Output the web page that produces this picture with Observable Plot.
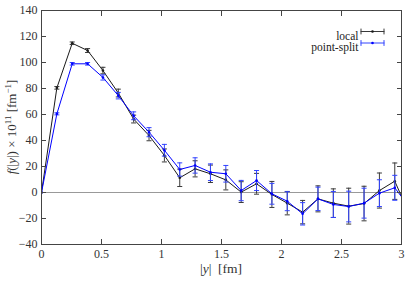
<!DOCTYPE html>
<html><head><meta charset="utf-8">
<script src="https://cdn.jsdelivr.net/npm/d3@7"></script>
<script src="https://cdn.jsdelivr.net/npm/@observablehq/plot@0.6"></script>
<style>body{margin:0;background:#fff} #chart svg{display:block}</style>
</head><body><div id="chart"></div>
<script>
const yPos = [0, 0.128, 0.256, 0.384, 0.512, 0.64, 0.768, 0.896, 1.024, 1.152, 1.28, 1.408, 1.536, 1.664, 1.792, 1.92, 2.048, 2.176, 2.304, 2.432, 2.56, 2.688, 2.816, 2.944, 3.072];
const local = [0, 80.5, 114.8, 109.2, 93.8, 76.5, 56.5, 43.8, 28.5, 11.3, 18.2, 14.4, 9.7, 0.3, 6.7, -1.5, -8.2, -15.1, -4.9, -8.2, -10.5, -8.5, 1.5, 8.7, -18];
const localErr = [0, 1, 1, 1.5, 2.5, 3, 3, 4, 5, 6.7, 6.2, 6.7, 7.7, 8, 8, 10, 9, 9, 10, 11, 13.8, 13.3, 13.5, 14, 14];
const pointSplit = [0, 60.5, 99, 99, 88.5, 74.5, 59, 46.4, 32.5, 17.7, 20.8, 15.6, 14.4, 1.5, 9.2, -1, -6.7, -16.4, -4.9, -9.2, -10.8, -8.2, -0.5, 3.6, -12];
const pointSplitErr = [0, 0.8, 1, 1, 2, 2.5, 3, 3.5, 4.5, 5.1, 5.9, 6.4, 6.4, 7.8, 7.7, 8, 7.3, 8.6, 9, 10, 11.8, 11.5, 10.3, 9.6, 10];
const xTicks = [0, 0.5, 1, 1.5, 2, 2.5, 3];
const yTicks = [-40, -20, 0, 20, 40, 60, 80, 100, 120, 140];
const seriesNames = ["local", "point-split"];
const lineColors = ["#1a1a1a", "#0000ff"];
const barColors = ["#3a3a3a", "#3344ff"];

const seriesVals = [local, pointSplit];
const seriesErrs = [localErr, pointSplitErr];
const capHalf = 0.021;
const FONT = "'Liberation Serif', 'DejaVu Serif', serif";

const hline = {draw(ctx, l) { ctx.moveTo(-l / 2, 0); ctx.lineTo(l / 2, 0); }};
const vline = {draw(ctx, l) { ctx.moveTo(0, -l / 2); ctx.lineTo(0, l / 2); }};

const marks = [Plot.ruleY([0], {stroke: "#999", strokeWidth: 1})];
seriesNames.forEach((name, s) => {
  const rows = seriesVals[s].map((v, i) => ({x: yPos[i], y: v, lo: v - seriesErrs[s][i], hi: v + seriesErrs[s][i], e: seriesErrs[s][i]}));
  const eb = rows.filter(d => d.e > 0);
  marks.push(
    Plot.line(rows, {x: "x", y: "y", stroke: lineColors[s], strokeWidth: 1, clip: true}),
    Plot.ruleX(eb, {x: "x", y1: "lo", y2: "hi", stroke: barColors[s], strokeWidth: 1, clip: true}),
    Plot.link(eb, {x1: d => d.x - capHalf, x2: d => d.x + capHalf, y1: "lo", y2: "lo", stroke: barColors[s], strokeWidth: 1, clip: true}),
    Plot.link(eb, {x1: d => d.x - capHalf, x2: d => d.x + capHalf, y1: "hi", y2: "hi", stroke: barColors[s], strokeWidth: 1, clip: true}),
    Plot.dot(rows, {x: "x", y: "y", r: 1.3, fill: lineColors[s], stroke: "none", clip: true})
  );
  // legend
  const dy = 21 + 11.5 * s;
  marks.push(
    Plot.text([name], {text: d => d, frameAnchor: "top-right", dx: -43, dy: dy, textAnchor: "end", fontSize: 11.5, fontFamily: FONT, fill: "#222"}),
    Plot.vector([0], {frameAnchor: "top-right", dx: -29, dy: dy, length: 23, anchor: "start", shape: hline, stroke: barColors[s], strokeWidth: 1}),
    Plot.vector([0], {frameAnchor: "top-right", dx: -40.5, dy: dy, length: 5, anchor: "start", shape: vline, stroke: barColors[s], strokeWidth: 1}),
    Plot.vector([0], {frameAnchor: "top-right", dx: -17.5, dy: dy, length: 5, anchor: "start", shape: vline, stroke: barColors[s], strokeWidth: 1}),
    Plot.dot([0], {frameAnchor: "top-right", dx: -29, dy: dy, r: 1.3, fill: lineColors[s]})
  );
});

marks.push(
  Plot.axisX({ticks: xTicks, tickSize: -5, tickPadding: 10, tickFormat: d => String(d), label: null, fontSize: 12, fontFamily: FONT, stroke: "#444", color: "#333"}),
  Plot.axisX({anchor: "top", ticks: xTicks, tickSize: -5, tickFormat: () => "", label: null, stroke: "#444"}),
  Plot.axisY({ticks: yTicks, tickSize: -5, tickPadding: 9, tickFormat: d => d < 0 ? "\u2212" + Math.abs(d) : String(d), label: null, fontSize: 12, fontFamily: FONT, stroke: "#444", color: "#333"}),
  Plot.axisY({anchor: "right", ticks: yTicks, tickSize: -5, tickFormat: () => "", label: null, stroke: "#444"}),
  Plot.frame({stroke: "#444", strokeWidth: 1})
);

const plot = Plot.plot({
  width: 411, height: 288,
  marginLeft: 41, marginRight: 10, marginTop: 10, marginBottom: 44,
  x: {domain: [0, 3]},
  y: {domain: [-40, 140]},
  style: {fontFamily: FONT, color: "#333", background: "#fff"},
  marks
});
document.getElementById("chart").appendChild(plot);

const svg = d3.select(plot);
// x label
const xl = svg.append("text").attr("x", 221).attr("y", 272.5).attr("text-anchor", "middle")
  .attr("font-family", FONT).attr("font-size", 13.5).attr("fill", "#333");
xl.append("tspan").text("|");
xl.append("tspan").attr("font-style", "italic").text("y");
xl.append("tspan").text("|  [fm]");
// y label
const yl = svg.append("text").attr("transform", "translate(16,127) rotate(-90)").attr("text-anchor", "middle")
  .attr("font-family", FONT).attr("font-size", 13).attr("fill", "#333");
yl.append("tspan").attr("font-style", "italic").text("f");
yl.append("tspan").text("(|");
yl.append("tspan").attr("font-style", "italic").text("y");
yl.append("tspan").text("|) \u00d7 10");
yl.append("tspan").attr("font-size", 9).attr("dy", -5).text("11");
yl.append("tspan").attr("dy", 5).text(" [fm");
yl.append("tspan").attr("font-size", 9).attr("dy", -5).text("\u22121");
yl.append("tspan").attr("dy", 5).text("]");
</script>
</body></html>
